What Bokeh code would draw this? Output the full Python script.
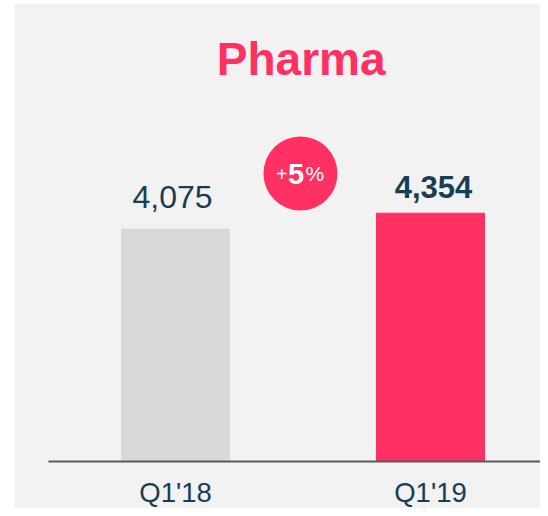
from bokeh.plotting import figure
from bokeh.models import Range1d, ColumnDataSource, Label
from bokeh.embed import file_html
from bokeh.resources import INLINE
from bokeh.core.properties import value

# ---- data ----
categories = ["Q1'18", "Q1'19"]
sales = [4075, 4354]
value_labels = ["4,075", "4,354"]
title_text = "Pharma"
growth_sign = "+"
growth_number = "5"
growth_unit = "%"

# ---- style ----
PINK = "#FF3062"
GREYBAR = "#D9D9D9"
BG = "#F2F2F2"
NAVY = "#193D55"
FONT = "Liberation Sans"

xpos = [i + 0.5 for i in range(len(categories))]
X0, X1 = -0.1314, 1.9314
Y0, Y1 = -824, 8031
mid_x = sum(xpos) / len(xpos) - 0.01

p = figure(width=540, height=508, output_backend="svg", toolbar_location=None,
           x_range=Range1d(X0, X1), y_range=Range1d(Y0, Y1),
           x_axis_location=None, y_axis_location=None,
           min_border_left=14, min_border_right=0, min_border_top=3, min_border_bottom=0)
p.background_fill_color = BG
p.border_fill_color = "white"
p.outline_line_color = None
p.grid.visible = False

src = ColumnDataSource(dict(x=xpos, top=sales, color=[GREYBAR, PINK], lab=value_labels))
p.vbar(x="x", top="top", width=0.4235, color="color", source=src)

# baseline (axis line)
p.segment(x0=[0.002], y0=[0], x1=[X1], y1=[0], line_color="#595959", line_width=2)

# category labels
p.text(x=xpos, y=[0] * len(xpos), text=categories, text_align="center",
       text_baseline="alphabetic", y_offset=30.5, text_font=value(FONT),
       text_font_size="27.5px", text_color=NAVY)

# value labels
styles = ["normal", "bold"]
sizes = ["32px", "31px"]
yoffs = [-32, -26]
xoffs = [-3, 3]
for i in range(len(categories)):
    s = ColumnDataSource(dict(x=[xpos[i]], y=[sales[i]], t=[value_labels[i]]))
    p.text(x="x", y="y", text="t", source=s, text_align="center", text_baseline="alphabetic",
           x_offset=xoffs[i], y_offset=yoffs[i], text_font=value(FONT), text_font_size=sizes[i],
           text_font_style=styles[i], text_color=NAVY)

# title
p.add_layout(Label(x=mid_x + 0.003, y=7061, text=title_text, text_align="center",
                   text_baseline="alphabetic", text_font=FONT, text_font_size="46px",
                   text_font_style="bold", text_color=PINK))

# growth bubble
p.scatter(x=[mid_x], y=[5050], marker="circle", size=74, fill_color=PINK, line_color=None)
ty = 5050
p.add_layout(Label(x=mid_x, y=ty, text=growth_sign, x_offset=-18.5, text_align="center",
                   text_baseline="alphabetic", text_font=FONT, text_font_size="20px",
                   text_color="white"))
p.add_layout(Label(x=mid_x, y=ty, text=growth_number, x_offset=-4.5, text_align="center",
                   text_baseline="alphabetic", text_font=FONT, text_font_size="29px",
                   text_font_style="bold", text_color="white"))
p.add_layout(Label(x=mid_x, y=ty, text=growth_unit, x_offset=14.5, text_align="center",
                   text_baseline="alphabetic", text_font=FONT, text_font_size="21px",
                   text_color="white"))

open("out.html", "w").write(file_html(p, INLINE))
